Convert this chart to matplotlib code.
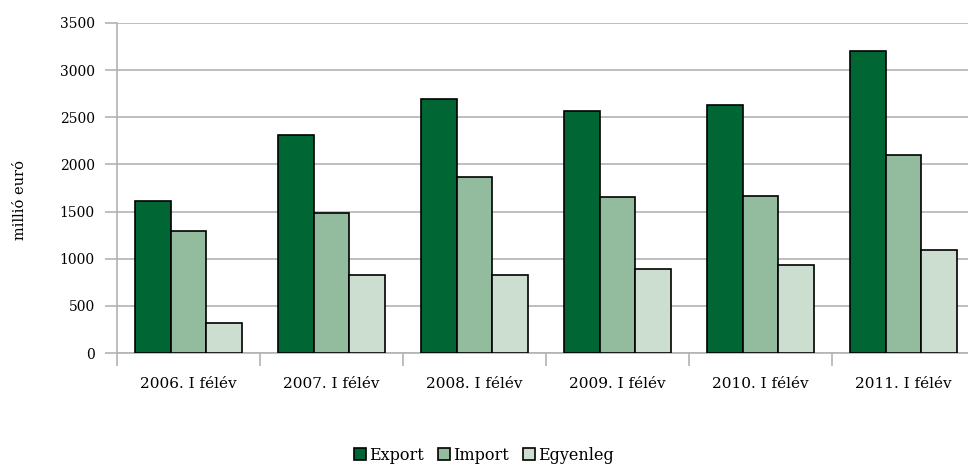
import matplotlib
matplotlib.use("Agg")
import matplotlib.pyplot as plt
import numpy as np

categories = ["2006. I félév", "2007. I félév", "2008. I félév",
              "2009. I félév", "2010. I félév", "2011. I félév"]
export = [1610, 2310, 2690, 2565, 2625, 3200]
imports = [1290, 1480, 1865, 1650, 1670, 2100]
egyenleg = [315, 825, 825, 890, 930, 1095]
series_names = ["Export", "Import", "Egyenleg"]
colors = ["#006633", "#93bb9e", "#ccdecf"]
yticks = [0, 500, 1000, 1500, 2000, 2500, 3000, 3500]

plt.rcParams['font.family'] = ['DejaVu Serif']

W, H = 968, 465
fig = plt.figure(figsize=(W / 100, H / 100), dpi=100)
left, right, top, bottom = 117, 975, 23, 353
ax = fig.add_axes([left / W, 1 - bottom / H, (right - left) / W, (bottom - top) / H])

x = np.arange(len(categories))
bw = 0.25
for i, (vals, name, c) in enumerate(zip([export, imports, egyenleg], series_names, colors)):
    ax.bar(x + (i - 1) * bw, vals, width=bw, color=c, edgecolor="black",
           linewidth=1.2, label=name, zorder=3)

fs = 10.5
ax.set_xlim(-0.5, len(categories) - 0.5)
ax.set_ylim(0, 3500)
ax.set_yticks(yticks)
ax.set_yticklabels([str(v) for v in yticks], fontsize=10)
ax.yaxis.grid(True, color="#b3b3b3", linewidth=1.2, zorder=0)
ax.set_xticks(x)
ax.set_xticklabels(categories, fontsize=11)
ax.set_xticks(np.arange(len(categories) + 1) - 0.5, minor=True)
ax.tick_params(axis="x", which="major", length=0, pad=17)
ax.tick_params(axis="x", which="minor", length=9, width=1.2, color="#b3b3b3")
ax.tick_params(axis="y", length=9, width=1.2, color="#b3b3b3", pad=7)

for s in ["top", "right"]:
    ax.spines[s].set_visible(False)
for s in ["left", "bottom"]:
    ax.spines[s].set_color("#b3b3b3")
    ax.spines[s].set_linewidth(1.2)

fig.text(20 / W, 1 - 200 / H, "millió euró", rotation=90, ha="center", va="center", fontsize=10.5)

handles, labels = ax.get_legend_handles_labels()
fig.legend(handles, labels, loc="center", bbox_to_anchor=(0.5, 1 - 455 / H), ncol=3,
           frameon=False, fontsize=11.5, handlelength=0.75, handleheight=0.75,
           handletextpad=0.2, columnspacing=0.9)

fig.savefig("out.png", dpi=100)
